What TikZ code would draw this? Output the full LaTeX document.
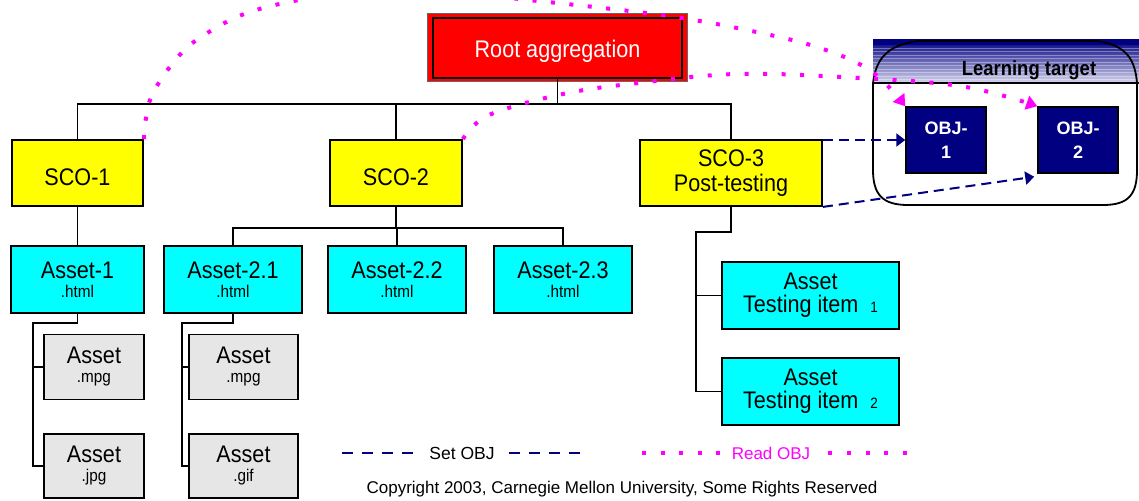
\documentclass[tikz,border=0pt]{standalone}
\usepackage{fontspec}
\setmainfont{Liberation Sans}
\newfontfamily\cond{Liberation Sans}[FakeStretch=0.9]
\usetikzlibrary{arrows.meta}
\definecolor{navy}{RGB}{0,0,128}
\definecolor{mag}{RGB}{255,0,255}
\definecolor{cyanbox}{RGB}{0,255,255}
\definecolor{yel}{RGB}{255,255,0}
\definecolor{graybox}{RGB}{230,230,230}
\definecolor{lav}{RGB}{215,215,238}
\definecolor{midblue}{RGB}{80,80,165}
\newcommand{\bigf}{\cond\fontsize{24}{19}\selectfont}
\newcommand{\subf}{\cond\fontsize{17}{17}\selectfont}
\tikzset{
  box/.style={draw=black, line width=1.8pt, inner sep=0pt, align=center, font=\bigf,
    execute at begin node={\rule{0pt}{26pt}}},
  ybox/.style={box, fill=yel, minimum height=66pt},
  cbox/.style={box, fill=cyanbox, minimum height=67pt},
  gbox/.style={box, fill=graybox, minimum width=105pt, minimum height=65pt},
  objbox/.style={draw=black, line width=1.5pt, fill=navy, text=white, align=center, inner sep=0pt,
    font=\bfseries\fontsize{18}{24}\selectfont, minimum width=80pt, minimum height=66pt,
    execute at begin node={\rule{0pt}{20pt}}},
  link/.style={line width=1.8pt},
  setarrow/.style={navy, line width=2pt, dash pattern=on 10pt off 6pt, -{Triangle[length=9pt,width=13pt]}},
  readarrow/.style={mag, line width=4pt, dash pattern=on 4pt off 14.5pt, -{Triangle[length=11pt,width=14pt]}},
}
\begin{document}
\begin{tikzpicture}[x=1pt,y=-1pt]
\useasboundingbox (0,0) rectangle (1139,500);
\clip (0,0) rectangle (1139,500);

% Root
\draw[draw=black!60, fill=red, line width=0.8pt] (427,13) rectangle (687,81);
\node[draw=black, line width=2.5pt, fill=red, text=white, minimum width=249pt, minimum height=60pt,
  font=\bigf, inner sep=0pt, execute at begin node={\rule{0pt}{24pt}}] (root) at (557.5,48) {Root aggregation};

% SCOs
\node[ybox, minimum width=131pt] (sco1) at (77.5,173) {SCO-1};
\node[ybox, minimum width=132pt] (sco2) at (396,173) {SCO-2};
\node[ybox, minimum width=182pt] (sco3) at (731,173) {SCO-3\\[6pt]Post-testing};

% Assets
\node[cbox, minimum width=133pt] (a1) at (77.5,279.5) {Asset-1\\{\subf .html}};
\node[cbox, minimum width=138pt] (a21) at (233,279.5) {Asset-2.1\\{\subf .html}};
\node[cbox, minimum width=138pt] (a22) at (397,279.5) {Asset-2.2\\{\subf .html}};
\node[cbox, minimum width=138pt] (a23) at (563,279.5) {Asset-2.3\\{\subf .html}};

% Gray assets
\node[gbox, minimum width=100pt] (g11) at (94,367) {Asset\\{\subf .mpg}};
\node[gbox, minimum width=100pt, minimum height=64pt] (g12) at (94,466) {Asset\\{\subf .jpg}};
\node[gbox, minimum width=109pt] (g21) at (243.5,367) {Asset\\{\subf .mpg}};
\node[gbox, minimum width=109pt, minimum height=64pt] (g22) at (243.5,466) {Asset\\{\subf .gif}};

% Testing items
\node[cbox, minimum width=177pt, execute at begin node={\rule{0pt}{22pt}}] (t1) at (810.5,295.5) {Asset\\[4pt]Testing item\hspace{12pt}{\fontsize{15}{15}\selectfont 1}};
\node[cbox, minimum width=177pt, execute at begin node={\rule{0pt}{22pt}}] (t2) at (810.5,391.5) {Asset\\[4pt]Testing item\hspace{12pt}{\fontsize{15}{15}\selectfont 2}};

% Tree connectors
\coordinate (bar) at (557.5,104);
\draw[link] (root.south) -- (bar);
\draw[link] (sco1.north) |- (bar) -| (sco3.north);
\draw[link] (sco2.north) -- (sco2.north |- bar);
\draw[link] (sco1.south) -- (a1.north);
\coordinate (bar2) at (396,228);
\draw[link, line width=2.4pt] (sco2.south) -- (bar2);
\draw[link] (a21.north) |- (bar2) -| (a23.north);
\draw[link] (a22.north) -- (a22.north |- bar2);
\coordinate (k1) at (33,323);
\draw[link] (a1.south) |- (k1) |- (g12.west);
\draw[link] (k1 |- g11.west) -- (g11.west);
\coordinate (k2) at (182,323);
\draw[link] (a21.south) |- (k2) |- (g22.west);
\draw[link] (k2 |- g21.west) -- (g21.west);
\coordinate (k3) at (696,232);
\draw[link] (sco3.south) |- (k3) |- (t2.west);
\draw[link] (k3 |- t1.west) -- (t1.west);

% Learning target panel
\shade[top color=navy, middle color=midblue, bottom color=lav] (873,40) rectangle (1139,83);
\fill[navy] (873,40) rectangle (1139,45);
\foreach \yy in {48,51.5,...,81} \draw[white, opacity=0.35, line width=0.6pt] (873,\yy) -- (1139,\yy);
\draw[line width=1.8pt] (873,83) .. controls (876,58) and (888,45) .. (918,41) -- (1097,41)
  .. controls (1125,45) and (1135,58) .. (1137,83) -- (1137,170)
  .. controls (1137,195) and (1128,205) .. (1103,205) -- (908,205)
  .. controls (883,205) and (873,195) .. (873,170) -- cycle;
\draw[line width=1.8pt] (873,83) -- (1139,83);
\node[font=\cond\bfseries\fontsize{20.5}{22}\selectfont] (lt) at (1029,70) {Learning target};

\node[objbox] (obj1) at (946,140) {OBJ-\\1};
\node[objbox] (obj2) at (1078,140) {OBJ-\\2};

% Set OBJ arrows
\draw[setarrow] (sco3.east |- obj1.west) -- (obj1.west);
\draw[setarrow] (sco3.south east) -- ([xshift=-3pt,yshift=-3pt]obj2.south west);

% Read OBJ arrows
\draw[readarrow] plot[smooth, tension=0.6] coordinates {(sco1.north east) (150,100) (173,63) (201,37) (256,10) (350,-8) (430,-11) (510,-2) (594,7) (668,16) (742,29) (817,47) (871,71) (obj1.north west)};
\draw[readarrow] plot[smooth, tension=0.6] coordinates {(sco2.north east) (489,115) (563,94) (638,83) (736,74) (841,77) (960,86) (obj2.north west)};

% Legend
\node[font=\fontsize{17.5}{20}\selectfont] (setl) at (462,453) {Set OBJ};
\coordinate (sl1) at (342,453); \coordinate (sl2) at (416,453);
\coordinate (sr1) at (509,453); \coordinate (sr2) at (581,453);
\draw[navy, line width=2pt, dash pattern=on 11pt off 9pt] (sl1) -- (sl2);
\draw[navy, line width=2pt, dash pattern=on 11pt off 9pt] (sr1) -- (sr2);
\node[font=\fontsize{17}{20}\selectfont, text=mag] (readl) at (771,453) {Read OBJ};
\coordinate (rl1) at (642,453); \coordinate (rl2) at (720,453);
\coordinate (rr1) at (828,453); \coordinate (rr2) at (907,453);
\draw[mag, line width=4pt, dash pattern=on 4pt off 14.5pt] (rl1) -- (rl2);
\draw[mag, line width=4pt, dash pattern=on 4pt off 14.75pt] (rr1) -- (rr2);

\node[font=\fontsize{17}{20}\selectfont] (copy) at (622,489) {Copyright 2003, Carnegie Mellon University, Some Rights Reserved};
\end{tikzpicture}
\end{document}
